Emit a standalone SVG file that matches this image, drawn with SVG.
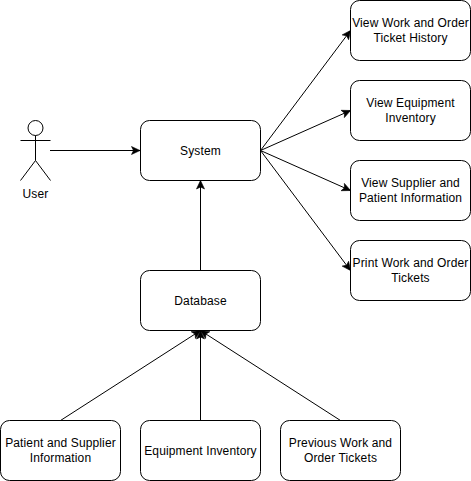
<svg xmlns="http://www.w3.org/2000/svg" width="471" height="481" viewBox="0 0 471 481">
<style>
text{font-family:"Liberation Sans",Arial,sans-serif;font-size:12px;letter-spacing:.13px;fill:#000;text-anchor:middle}
.b{fill:#fff;stroke:#000;stroke-width:1}
.c{fill:none;stroke:#000;stroke-width:1}
.c line{marker-end:url(#a)}
</style>
<defs>
<marker id="a" markerUnits="userSpaceOnUse" markerWidth="12" markerHeight="10" refX="10" refY="4.500" orient="auto" viewBox="0 0 12 9">
<path d="M1.500 0.500L10 4.500L1.500 8.500L3.500 4.500Z" fill="#000" stroke="#000" stroke-width=".6"/>
</marker>
</defs>
<rect width="471" height="481" fill="#fff"/>
<g id="connectors" class="c">
<line x1="50" y1="150.500" x2="140" y2="150.500"/>
<line x1="260.500" y1="150.500" x2="350.500" y2="30.500"/>
<line x1="260.500" y1="150.500" x2="350.500" y2="110.500"/>
<line x1="260.500" y1="150.500" x2="350.500" y2="190.500"/>
<line x1="260.500" y1="150.500" x2="350.500" y2="270.500"/>
<line x1="200.500" y1="270.500" x2="200.500" y2="180.500"/>
<line x1="60.500" y1="420.500" x2="200.500" y2="330.500"/>
<line x1="200.500" y1="420.500" x2="200.500" y2="330.500"/>
<line x1="340.500" y1="420.500" x2="200.500" y2="330.500"/>
</g>
<g id="user" class="c">
<circle cx="35.500" cy="128" r="7.500"/>
<path d="M35.500 135.500V160.500M20.500 140.500H50.500M20.500 180.500L35.500 160.500L50.500 180.500"/>
<text x="35.500" y="198" stroke="none">User</text>
</g>
<g id="system"><rect class="b" x="140.500" y="120.500" width="120" height="60" rx="9"/><text x="200.500" y="155">System</text></g>
<g id="database"><rect class="b" x="140.500" y="270.500" width="120" height="60" rx="9"/><text x="200.500" y="305">Database</text></g>
<g id="view-history"><rect class="b" x="350.500" y="0.500" width="120" height="60" rx="9"/><text x="410.500" y="27">View Work and Order</text><text x="410.500" y="42">Ticket History</text></g>
<g id="view-equipment"><rect class="b" x="350.500" y="80.500" width="120" height="60" rx="9"/><text x="410.500" y="107">View Equipment</text><text x="410.500" y="122">Inventory</text></g>
<g id="view-supplier"><rect class="b" x="350.500" y="160.500" width="120" height="60" rx="9"/><text x="410.500" y="187">View Supplier and</text><text x="410.500" y="202">Patient Information</text></g>
<g id="print-tickets"><rect class="b" x="350.500" y="240.500" width="120" height="60" rx="9"/><text x="410.500" y="267">Print Work and Order</text><text x="410.500" y="282">Tickets</text></g>
<g id="patient-supplier"><rect class="b" x="0.500" y="420.500" width="120" height="60" rx="9"/><text x="60.500" y="447">Patient and Supplier</text><text x="60.500" y="462">Information</text></g>
<g id="equipment-inventory"><rect class="b" x="140.500" y="420.500" width="120" height="60" rx="9"/><text x="200.500" y="455">Equipment Inventory</text></g>
<g id="previous-tickets"><rect class="b" x="280.500" y="420.500" width="120" height="60" rx="9"/><text x="340.500" y="447">Previous Work and</text><text x="340.500" y="462">Order Tickets</text></g>
</svg>
